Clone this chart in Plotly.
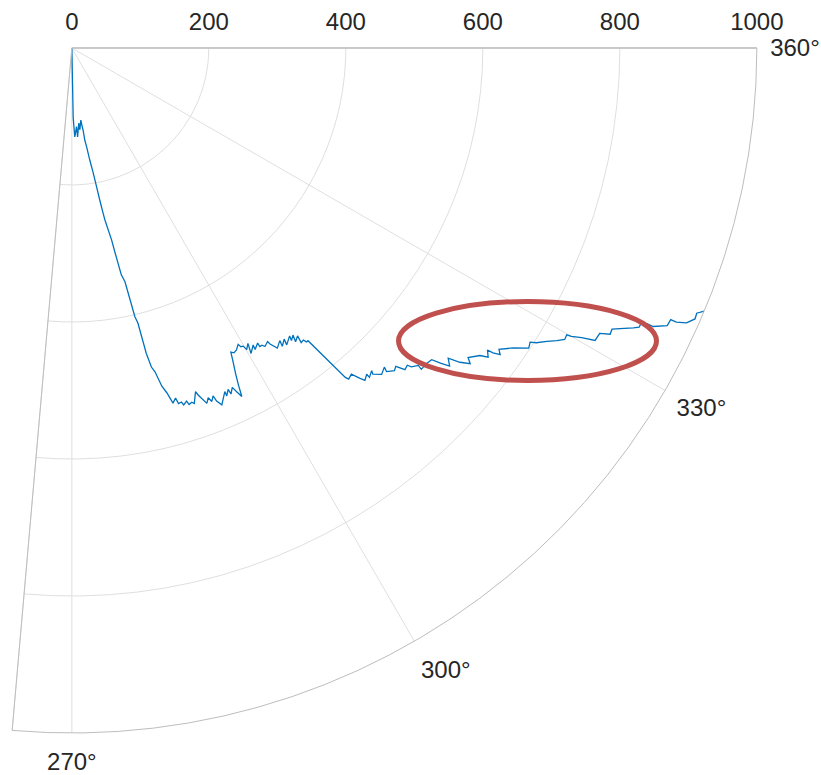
import plotly.graph_objects as go

# Path sampled as (theta in degrees, radius)
theta_deg = [
    271.0, 271.1, 271.9, 273.4, 273.7, 275.3, 275.6, 277.1, 277.5, 277.8,
    278.0, 278.5, 279.1, 279.7, 280.1, 280.4, 280.7, 280.9, 281.7, 281.9,
    282.3, 282.8, 283.2, 283.5, 283.7, 284.0, 284.4, 284.9, 285.4, 285.9,
    286.5, 286.7, 287.2, 287.4, 288.0, 288.2, 288.7, 289.0, 289.8, 290.0,
    290.8, 291.3, 291.6, 292.1, 292.3, 292.8, 294.0, 294.0, 294.6, 294.7,
    295.3, 295.6, 296.0, 296.3, 296.7, 297.2, 297.6, 298.0, 298.6, 299.3,
    299.5, 299.9, 300.1, 300.8, 300.4, 301.4, 301.3, 302.2, 302.2, 302.6,
    302.9, 303.7, 303.8, 304.4, 305.4, 305.2, 306.1, 305.9, 307.1, 306.9,
    307.6, 307.3, 308.1, 307.9, 308.4, 308.6, 308.9, 309.7, 309.9, 310.6,
    311.1, 311.4, 312.1, 312.1, 312.9, 312.7, 313.5, 314.4, 314.2, 315.0,
    315.5, 316.0, 316.6, 316.8, 317.5, 317.4, 318.4, 319.1, 319.5, 319.9,
    320.5, 321.0, 321.6, 322.0, 323.0, 323.4, 324.0, 324.1, 324.4, 324.8,
    325.8, 326.7, 327.3, 327.6, 328.3, 328.9, 329.4, 329.9, 330.0, 330.4,
    330.8, 331.6, 332.0, 332.5, 332.9, 333.5, 333.8, 334.1, 334.4, 334.4,
    335.0, 335.6, 335.6, 335.9, 336.5, 337.0, 337.4,
]
radius = [
    0, 102, 130, 115, 130, 110, 120, 106, 116, 121,
    136, 146, 166, 185, 206, 226, 245, 256, 286, 304,
    339, 350, 403, 413, 459, 480, 488, 511, 522, 539,
    533, 542, 541, 546, 542, 548, 546, 549, 533, 539,
    555, 548, 555, 548, 557, 565, 549, 556, 548, 556,
    548, 556, 566, 549, 532, 515, 501, 504, 502, 496,
    501, 502, 509, 502, 517, 508, 515, 509, 515, 515,
    519, 515, 520, 531, 524, 533, 526, 535, 527, 534,
    529, 539, 534, 545, 544, 549, 549, 625, 630, 627,
    640, 647, 642, 648, 643, 648, 657, 652, 659, 666,
    663, 676, 674, 680, 686, 693, 693, 695, 709, 721,
    712, 729, 742, 734, 746, 757, 750, 759, 769, 763,
    779, 798, 795, 803, 815, 827, 836, 835, 842, 856,
    875, 876, 890, 889, 899, 916, 923, 923, 931, 941,
    959, 960, 969, 983, 992, 991, 1000,
]

r_ticks = [0, 200, 400, 600, 800, 1000]
theta_ticks = [265, 270, 300, 330, 360]
theta_labels = ["", "270°", "300°", "330°", "360°"]

FONT = "Liberation Sans, Arial, Helvetica, sans-serif"
TEXT = "#262626"
GRID = "#dfdfdf"
EDGE = "#bdbdbd"
CLEAR = "rgba(0,0,0,0)"

fig = go.Figure(
    go.Scatterpolar(
        r=radius,
        theta=theta_deg,
        mode="lines",
        line=dict(color="#0072BD", width=1.3),
        hoverinfo="skip",
        showlegend=False,
    )
)

fig.update_layout(
    width=821,
    height=775,
    margin=dict(l=12, r=64, t=48, b=42),
    paper_bgcolor="white",
    font=dict(family=FONT, size=24, color=TEXT),
    polar=dict(
        sector=[265, 360],
        domain=dict(x=[0, 1], y=[0, 1]),
        bgcolor="white",
        radialaxis=dict(
            range=[0, 1000],
            tickvals=r_ticks,
            angle=0,
            tickangle=0,
            side="counterclockwise",
            showline=True,
            linecolor=EDGE,
            linewidth=1,
            gridcolor=GRID,
            gridwidth=1,
            ticks="outside",
            ticklen=8,
            tickcolor=CLEAR,
            tickfont=dict(family=FONT, size=24, color=TEXT),
        ),
        angularaxis=dict(
            rotation=0,
            direction="counterclockwise",
            tickmode="array",
            tickvals=theta_ticks,
            ticktext=theta_labels,
            showline=True,
            linecolor=EDGE,
            linewidth=1,
            gridcolor=GRID,
            gridwidth=1,
            ticks="outside",
            ticklen=8,
            tickcolor=CLEAR,
            tickfont=dict(family=FONT, size=24, color=TEXT),
        ),
    ),
    # highlight around the outer part of the path
    shapes=[
        dict(
            type="circle",
            xref="paper",
            yref="paper",
            x0=0.5188,
            x1=0.8651,
            y0=0.5146,
            y1=0.6299,
            line=dict(color="#C0504D", width=5),
            fillcolor=CLEAR,
        )
    ],
)

fig.write_html("out.html")
